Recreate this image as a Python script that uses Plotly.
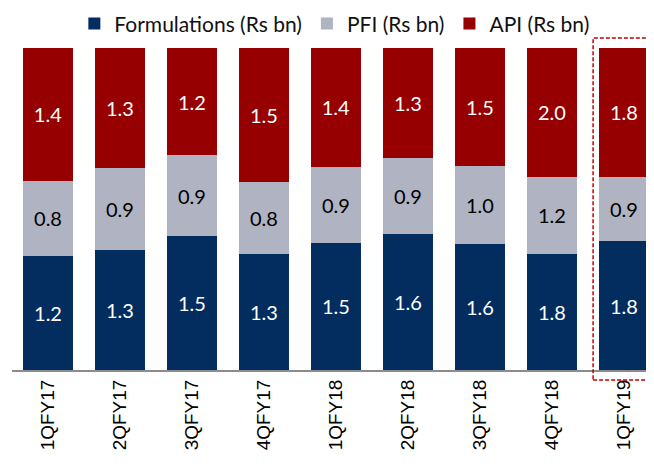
import plotly.graph_objects as go

quarters = ["1QFY17", "2QFY17", "3QFY17", "4QFY17", "1QFY18", "2QFY18", "3QFY18", "4QFY18", "1QFY19"]
formulations = [1.2, 1.3, 1.5, 1.3, 1.5, 1.6, 1.6, 1.8, 1.8]
pfi = [0.8, 0.9, 0.9, 0.8, 0.9, 0.9, 1.0, 1.2, 0.9]
api = [1.4, 1.3, 1.2, 1.5, 1.4, 1.3, 1.5, 2.0, 1.8]

series = [
    ("Formulations (Rs bn)", formulations, "#022D5E", "white"),
    ("PFI (Rs bn)", pfi, "#B0B3C1", "black"),
    ("API (Rs bn)", api, "#960000", "white"),
]

fig = go.Figure()
for name, vals, color, tcolor in series:
    fig.add_trace(go.Bar(
        x=quarters, y=vals, name=name,
        marker=dict(color=color, line=dict(width=0)),
        text=[f"{v:.1f}" for v in vals], textposition="inside",
        insidetextanchor="middle",
        textfont=dict(color=tcolor, size=20, family="Lato"),
        hoverinfo="skip",
    ))

fig.update_layout(
    barmode="stack", barnorm="percent", bargap=0.31,
    width=654, height=464,
    margin=dict(l=4, r=0, t=40, b=102, autoexpand=False),
    paper_bgcolor="white", plot_bgcolor="white",
    showlegend=True,
    legend=dict(orientation="h", xref="container", yref="paper",
                x=0.499, xanchor="center", y=1.075, yanchor="middle",
                font=dict(size=21, family="Lato", color="#111"),
                itemwidth=30, traceorder="normal", bgcolor="rgba(0,0,0,0)"),
    uniformtext=dict(mode="show", minsize=10),
    font=dict(family="Liberation Sans"),
)
fig.update_xaxes(range=[-0.5, 8.53], tickangle=-90, showline=True, linecolor="#8C8C8C", linewidth=2,
                 ticks="", tickfont=dict(size=19, family="Liberation Sans", color="black"),
                 showgrid=False, automargin=False)
fig.update_yaxes(range=[0, 100], visible=False, showgrid=False, automargin=False)

fig.add_shape(type="rect", xref="paper", yref="paper",
              x0=0.894, x1=1.05, y0=-0.031, y1=1.031,
              line=dict(color="#C00000", width=1.5, dash="4px,2px"))

fig.write_html("out.html")
